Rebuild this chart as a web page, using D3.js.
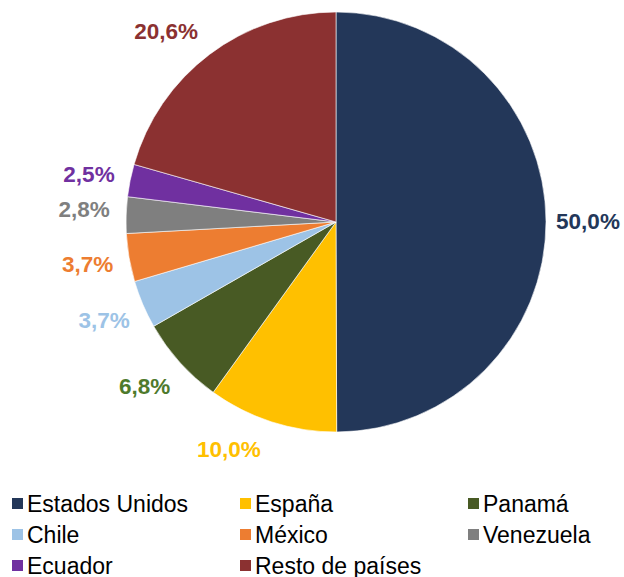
<!DOCTYPE html>
<html>
<head>
<meta charset="utf-8">
<script src="https://cdn.jsdelivr.net/npm/d3@7"></script>
<style>
  html, body { margin: 0; padding: 0; background: #fff; }
  svg { display: block; }
</style>
</head>
<body>
<svg id="chart" width="624" height="577"></svg>
<script>
// Country shares (percent)
const countries = ["Estados Unidos", "España", "Panamá", "Chile", "México", "Venezuela", "Ecuador", "Resto de países"];
const shares = [50.0, 10.0, 6.8, 3.7, 3.7, 2.8, 2.5, 20.6];
const sliceColors = ["#233759", "#ffc000", "#485a24", "#9dc3e6", "#ed7d31", "#7f7f7f", "#7030a0", "#8b3131"];
const labelColors = ["#233759", "#ffc000", "#4e7a2c", "#9dc3e6", "#ed7d31", "#7f7f7f", "#7030a0", "#8b3131"];

const data = countries.map((c, i) => ({ name: c, value: shares[i], color: sliceColors[i], labelColor: labelColors[i] }));

const svg = d3.select("#chart");
const cx = 336, cy = 222, radius = 210;

const pie = d3.pie().value(d => d.value).sort(null);
const arc = d3.arc().innerRadius(0).outerRadius(radius);
const labelArc = d3.arc().innerRadius(252).outerRadius(252);

// small offsets that keep crowded outside labels clear of each other
const labelShift = {
  "España": [-30, -12],
  "Resto de países": [-18, 11],
  "Panamá": [-4, -4],
  "Venezuela": [0, -4],
  "Ecuador": [0, 2]
};

const fmt = v => d3.format(".1f")(v).replace(".", ",") + "%";

const g = svg.append("g").attr("transform", `translate(${cx},${cy})`);
const arcs = pie(data);

g.selectAll("path.slice")
  .data(arcs)
  .join("path")
  .attr("class", "slice")
  .attr("d", arc)
  .attr("fill", d => d.data.color)
  .attr("stroke", "#ffffff")
  .attr("stroke-width", 0.6);

g.selectAll("text.value")
  .data(arcs)
  .join("text")
  .attr("class", "value")
  .attr("transform", d => {
    const [x, y] = labelArc.centroid(d);
    const [sx, sy] = labelShift[d.data.name] || [0, 0];
    return `translate(${x + sx},${y + sy})`;
  })
  .attr("text-anchor", "middle")
  .attr("dominant-baseline", "central")
  .attr("font-family", "'Liberation Sans', Arial, sans-serif")
  .attr("font-weight", "bold")
  .attr("font-size", 22.5)
  .attr("fill", d => d.data.labelColor)
  .text(d => fmt(d.data.value));

// Legend: three columns
const colX = [12, 240, 468];
const rowY = 512, rowStep = 31;
const legend = svg.append("g");
const items = legend.selectAll("g.item")
  .data(data)
  .join("g")
  .attr("class", "item")
  .attr("transform", (d, i) => `translate(${colX[i % 3]},${rowY + Math.floor(i / 3) * rowStep})`);

items.append("rect")
  .attr("x", 0).attr("y", -14)
  .attr("width", 11).attr("height", 11)
  .attr("fill", d => d.color);

items.append("text")
  .attr("x", 15).attr("y", 0)
  .attr("font-family", "'Liberation Sans', Arial, sans-serif")
  .attr("font-size", 23)
  .attr("fill", "#000")
  .text(d => d.name);
</script>
</body>
</html>
